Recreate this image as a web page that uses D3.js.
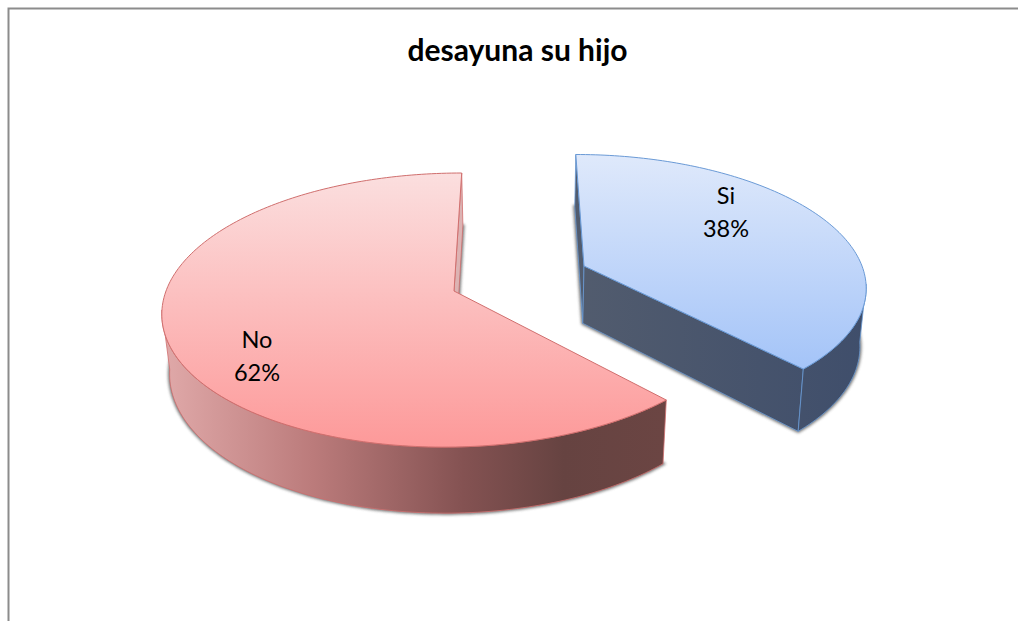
<!DOCTYPE html>
<html><head><meta charset="utf-8">
<script src="https://cdn.jsdelivr.net/npm/d3@7/dist/d3.min.js"></script>
<style>html,body{margin:0;padding:0;background:#fff;overflow:hidden}svg{display:block}</style>
</head><body><svg id="c" width="1018" height="621"></svg>
<script>
const chartTitle = "desayuna su hijo";
const categories = ["Si", "No"];
const percents = [38, 62];

const W = 1018, H = 621;
const svg = d3.select("#c");
const defs = svg.append("defs");

// Perspective view shared by both slices
const vanishX = 517, tilt = 0.139;
const views = {
  Si: {ax: 584, ay: 266, R: 278, Ry: 127, sink: 0.018, top: ["#dfe9fb", "#a4c4f8"], line: "#6a9ad6",
       wall: [[0, "#525c6e"], [1, "#3f4e6b"]], x0: 574, x1: 866},
  No: {ax: 454, ay: 291, R: 288, Ry: 134.4, sink: 0.022, top: ["#fbdfdf", "#fd9999"], line: "#d06f6e",
       wall: [[0, "#e0a9a9"], [0.3, "#bb7b7b"], [0.6, "#845252"], [0.8, "#664341"], [1, "#6b4543"]], x0: 163, x1: 664}
};

function pt(v, theta, r, lower) {
  const u = r * Math.sin(theta), w = -r * Math.cos(theta);
  const s = 1 / (1 - tilt * w);
  let x = v.ax + v.R * u * s + (v.ax - vanishX) * (s - 1);
  let y = v.ay + v.Ry * w * s;
  if (lower) { x += (vanishX - x) * v.sink; y += 44.6 + 0.048 * y; }
  return [x, y];
}
const pie = d3.pie().value(d => d).sort(null);
const arcs = pie(percents);
const path = d3.line();
const rim = (v, a, b, lower) => {
  const n = Math.max(2, Math.ceil((b - a) / 0.02));
  return d3.range(n + 1).map(i => pt(v, a + (b - a) * i / n, 1, lower));
};

// drop shadow
const blur = defs.append("filter").attr("id", "blur").attr("x", "-5%").attr("y", "-5%").attr("width", "110%").attr("height", "110%");
blur.append("feGaussianBlur").attr("stdDeviation", 1.8);

// gradients
categories.forEach(c => {
  const v = views[c];
  const t = defs.append("linearGradient").attr("id", "top" + c).attr("x1", 0).attr("y1", 0).attr("x2", 0).attr("y2", 1);
  t.append("stop").attr("offset", 0).attr("stop-color", v.top[0]);
  t.append("stop").attr("offset", 1).attr("stop-color", v.top[1]);
  const g = defs.append("linearGradient").attr("id", "wall" + c).attr("gradientUnits", "userSpaceOnUse")
    .attr("x1", v.x0).attr("y1", 0).attr("x2", v.x1).attr("y2", 0);
  v.wall.forEach(s => g.append("stop").attr("offset", s[0]).attr("stop-color", s[1]));
});

// frame
svg.append("path").attr("d", `M8.5,${H}V8.5H${W}`).attr("fill", "none").attr("stroke", "#8c8c8c").attr("stroke-width", 2);

// title
svg.append("text").attr("x", 517.5).attr("y", 61).attr("text-anchor", "middle")
  .attr("font-family", "Lato").attr("font-weight", 700).attr("font-size", 30).attr("fill", "#000").text(chartTitle);

const order = [1, 0];
order.forEach(i => {
  const c = categories[i], v = views[c], a = arcs[i];
  const g = svg.append("g");
  const s = a.startAngle, e = a.endAngle;
  const apexT = pt(v, 0, 0, false), apexB = pt(v, 0, 0, true);
  const wallStroke = {fill: `url(#wall${c})`, stroke: v.line, "stroke-width": 0.8, "stroke-linejoin": "round"};
  const addFace = pts => {
    const p = g.append("path").attr("d", path(pts) + "Z");
    Object.entries(wallStroke).forEach(([k, val]) => p.attr(k, val));
    return p;
  };
  // shadow of base
  g.append("path").attr("d", path([apexB, ...rim(v, s, e, true)]) + "Z")
    .attr("fill", "#505050").attr("stroke", "#505050").attr("stroke-width", 3).attr("opacity", 0.8).attr("filter", "url(#blur)");
  // inner walls, rim wall
  if (c === "Si") {
    addFace([pt(v, s, 1, false), apexT, apexB, pt(v, s, 1, true)]);
    addFace([apexT, pt(v, e, 1, false), pt(v, e, 1, true), apexB]);
    addFace([...rim(v, s + 1.71, e, false), ...rim(v, s + 1.71, e, true).reverse()]);
  } else {
    const q = addFace([pt(v, e, 1, false), apexT, apexB, pt(v, e, 1, true)]);
    q.attr("fill", "#dcb3b3");
    addFace([...rim(v, s, e - 1.71, false), ...rim(v, s, e - 1.71, true).reverse()]);
  }
  // top
  g.append("path").attr("d", path([apexT, ...rim(v, s, e, false)]) + "Z")
    .attr("fill", `url(#top${c})`).attr("stroke", v.line).attr("stroke-width", 1).attr("stroke-linejoin", "round");
});

// labels
const labelAt = {Si: [726, 204, 237], No: [257, 348, 381]};
categories.forEach((c, i) => {
  const l = labelAt[c];
  const t = svg.append("text").attr("text-anchor", "middle").attr("font-family", "Lato").attr("font-size", 23.5).attr("fill", "#000");
  t.append("tspan").attr("x", l[0]).attr("y", l[1]).text(c);
  t.append("tspan").attr("x", l[0]).attr("y", l[2]).text(percents[i] + "%");
});
</script></body></html>
